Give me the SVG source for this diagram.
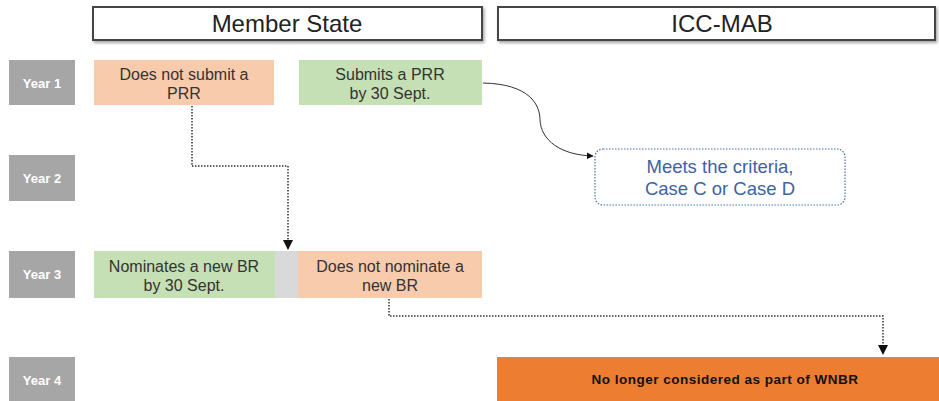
<svg xmlns="http://www.w3.org/2000/svg" width="939" height="401" viewBox="0 0 939 401">
<defs>
<filter id="sh" x="-5%" y="-30%" width="110%" height="160%"><feDropShadow dx="1.5" dy="2" stdDeviation="1.5" flood-color="#000" flood-opacity="0.35"/></filter>
<marker id="ah" viewBox="0 0 10 10" refX="9" refY="5" markerWidth="7" markerHeight="7" orient="auto"><path d="M0,0 L10,5 L0,10 z" fill="#111"/></marker>
</defs>
<style>
.hdr{fill:#fff;stroke:#444;stroke-width:2}
.ht{font-family:"Liberation Sans",Arial,sans-serif;font-size:24px;fill:#222;text-anchor:middle}
.yr{fill:#a6a6a6}
.yt{font-family:"Liberation Sans",Arial,sans-serif;font-size:13px;font-weight:bold;fill:#fff;text-anchor:middle}
.bt{font-family:"Liberation Sans",Arial,sans-serif;font-size:16px;fill:#333;text-anchor:middle}
.or{fill:#f8cbad}
.gr{fill:#c5e0b4}
.dot{fill:none;stroke:#333;stroke-width:1.5;stroke-dasharray:1.5 1.5}
</style>
<g id="hdr-member-state"><rect class="hdr" x="93" y="7" width="389" height="33" filter="url(#sh)"/><text class="ht" x="287" y="32">Member State</text></g>
<g id="hdr-icc-mab"><rect class="hdr" x="498" y="7" width="437" height="33" filter="url(#sh)"/><text class="ht" x="722" y="32">ICC-MAB</text></g>
<g id="year1"><rect class="yr" x="9" y="60" width="66" height="45"/><text class="yt" x="42" y="88">Year 1</text></g>
<g id="year2"><rect class="yr" x="9" y="155" width="66" height="46"/><text class="yt" x="42" y="183">Year 2</text></g>
<g id="year3"><rect class="yr" x="9" y="251" width="66" height="47"/><text class="yt" x="42" y="279">Year 3</text></g>
<g id="year4"><rect class="yr" x="9" y="357" width="66" height="44"/><text class="yt" x="42" y="385">Year 4</text></g>
<g id="no-prr"><rect class="or" x="94" y="60" width="180" height="45"/><text class="bt" x="184" y="80">Does not submit a</text><text class="bt" x="184" y="99">PRR</text></g>
<g id="submits-prr"><rect class="gr" x="299" y="60" width="183" height="45"/><text class="bt" x="390" y="80">Submits a PRR</text><text class="bt" x="390" y="99">by 30 Sept.</text></g>
<g id="meets-criteria"><rect x="595" y="149" width="250" height="56" rx="8" fill="#fff" stroke="#4a6fb0" stroke-width="1.2" stroke-dasharray="1.5 1.5"/><text class="bt" x="720" y="173" style="fill:#3d62a8;font-size:18.5px">Meets the criteria,</text><text class="bt" x="720" y="195" style="fill:#3d62a8;font-size:18.5px">Case C or Case D</text></g>
<g id="nominates"><rect class="gr" x="94" y="251" width="181" height="47"/><text class="bt" x="184" y="272">Nominates a new BR</text><text class="bt" x="184" y="291">by 30 Sept.</text></g>
<g id="gap"><rect x="275" y="251" width="23" height="47" fill="#d9d9d9"/></g>
<g id="not-nominate"><rect class="or" x="298" y="251" width="184" height="47"/><text class="bt" x="390" y="272">Does not nominate a</text><text class="bt" x="390" y="291">new BR</text></g>
<g id="no-longer"><rect x="497" y="357" width="442" height="44" fill="#ed7d31"/><text x="725" y="384" font-family="'Liberation Sans',Arial,sans-serif" font-size="13.5" font-weight="bold" letter-spacing="0.5" fill="#111" text-anchor="middle">No longer considered as part of WNBR</text></g>
<g id="connectors">
<path class="dot" d="M192,106 V166 H288 V249" marker-end="url(#ah)"/>
<path class="dot" d="M389,299 V316 H883 V354" marker-end="url(#ah)"/>
<path d="M483,83 C530,84 540,105 540,120 C541,140 560,155 593,156" fill="none" stroke="#333" stroke-width="1" marker-end="url(#ah)"/>
</g>
</svg>
